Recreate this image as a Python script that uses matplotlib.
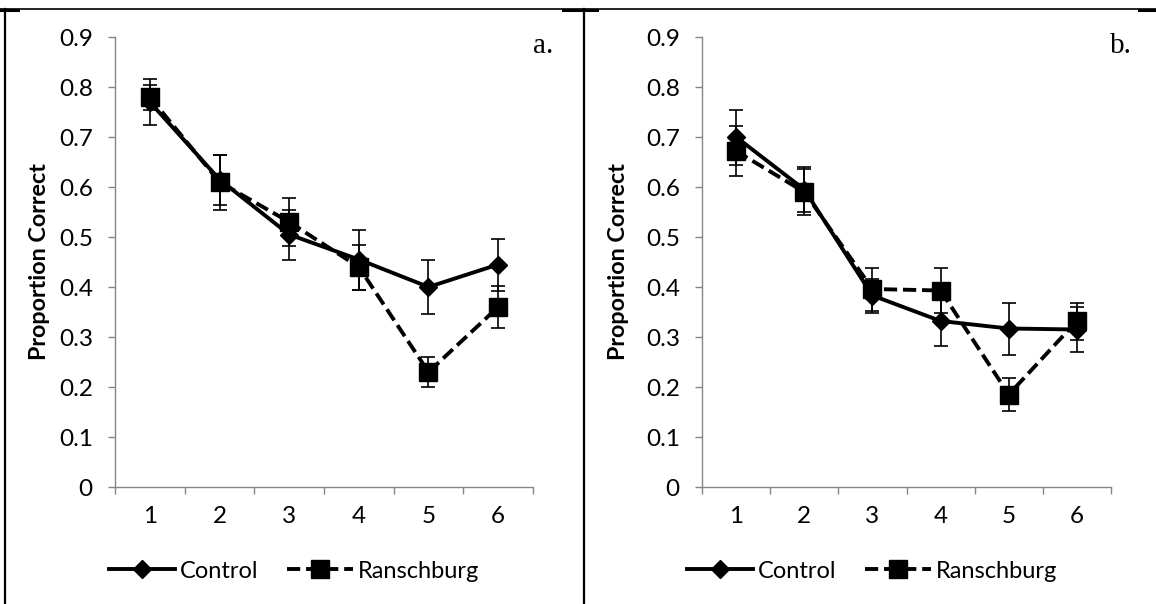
import numpy as np
import matplotlib
matplotlib.use("Agg")
import matplotlib.pyplot as plt
from matplotlib.lines import Line2D

plt.rcParams["font.family"] = ["Lato", "DejaVu Sans"]

# serial position (categories)
positions = [1, 2, 3, 4, 5, 6]
x_labels = ["1", "2", "3", "4", "5", "6"]
y_ticks = [0, 0.1, 0.2, 0.3, 0.4, 0.5, 0.6, 0.7, 0.8, 0.9]
y_tick_labels = ["0", "0.1", "0.2", "0.3", "0.4", "0.5", "0.6", "0.7", "0.8", "0.9"]

# panel a
a_control = [0.77, 0.615, 0.505, 0.455, 0.40, 0.445]
a_control_err = [0.045, 0.05, 0.05, 0.06, 0.054, 0.052]
a_ransch = [0.78, 0.61, 0.53, 0.44, 0.23, 0.36]
a_ransch_err = [0.025, 0.055, 0.048, 0.045, 0.03, 0.042]

# panel b
b_control = [0.70, 0.595, 0.383, 0.332, 0.317, 0.315]
b_control_err = [0.055, 0.045, 0.034, 0.05, 0.052, 0.045]
b_ransch = [0.672, 0.59, 0.396, 0.393, 0.185, 0.332]
b_ransch_err = [0.05, 0.046, 0.043, 0.045, 0.033, 0.037]

FS = 17.5
GRAY = "#868686"

fig = plt.figure(figsize=(11.56, 6.04), dpi=100)
ax_a = fig.add_axes([115 / 1156, 1 - 487 / 604, 418 / 1156, 450 / 604])
ax_b = fig.add_axes([702 / 1156, 1 - 487 / 604, 409 / 1156, 450 / 604])


def draw_panel(ax, control, control_err, ransch, ransch_err, label_x, leg_x):
    ax.errorbar(positions, control, yerr=control_err, fmt="none", ecolor="black",
                elinewidth=1.2, capsize=5, capthick=1.2, zorder=2)
    ax.errorbar(positions, ransch, yerr=ransch_err, fmt="none", ecolor="black",
                elinewidth=1.2, capsize=5, capthick=1.2, zorder=2)
    ax.plot(positions, control, color="black", lw=2.8, marker="D", ms=9.5,
            label="Control", zorder=3)
    ax.plot(positions, ransch, color="black", lw=2.8, ls="--", dashes=(3.4, 1.5),
            marker="s", ms=13.5, label="Ranschburg", zorder=4)

    ax.set_xlim(0.5, 6.5)
    ax.set_ylim(0, 0.9)
    ax.set_yticks(y_ticks)
    ax.set_yticklabels(y_tick_labels, fontsize=FS)
    ax.set_xticks(np.arange(0.5, 7, 1))
    ax.set_xticklabels([])
    ax.set_xticks(positions, minor=True)
    ax.set_xticklabels(x_labels, minor=True, fontsize=FS)
    ax.tick_params(axis="x", which="major", direction="out", length=5, color=GRAY, width=1)
    ax.tick_params(axis="x", which="minor", length=0, pad=14)
    ax.tick_params(axis="y", direction="out", length=5, color=GRAY, width=1, pad=11)

    for s in ["top", "right"]:
        ax.spines[s].set_visible(False)
    for s in ["left", "bottom"]:
        ax.spines[s].set_color(GRAY)
        ax.spines[s].set_linewidth(1)

    ax.set_ylabel("Proportion Correct", fontsize=16.8, fontweight="bold")
    ax.yaxis.set_label_coords(label_x, 0.5)

    ax.legend(loc="center", bbox_to_anchor=(leg_x, 1 - 571 / 604),
              bbox_transform=fig.transFigure, ncol=2, frameon=False, fontsize=17,
              handlelength=2.8, handletextpad=0.2, columnspacing=1.2)


draw_panel(ax_a, a_control, a_control_err, a_ransch, a_ransch_err, -0.155, 294 / 1156)
draw_panel(ax_b, b_control, b_control_err, b_ransch, b_ransch_err, -0.178, 872 / 1156)

fig.text(533 / 1156, 1 - 46 / 604, "a.", family="Liberation Serif", fontsize=21,
         ha="left", va="center")
fig.text(1110 / 1156, 1 - 46 / 604, "b.", family="Liberation Serif", fontsize=21,
         ha="left", va="center")

# table-like frame around the two panels
fig.add_artist(Line2D([0, 1], [1 - 9 / 604] * 2, color="black", lw=1.2))
fig.add_artist(Line2D([5 / 1156] * 2, [0, 1 - 9 / 604], color="black", lw=1.6))
fig.add_artist(Line2D([584 / 1156] * 2, [0, 1 - 9 / 604], color="black", lw=1.6))
for x0, x1 in [(0, 18), (563, 597), (1139, 1156)]:
    fig.add_artist(Line2D([x0 / 1156, x1 / 1156], [1 - 10 / 604] * 2, color="black", lw=2.2))

fig.savefig("out.png", dpi=100)
